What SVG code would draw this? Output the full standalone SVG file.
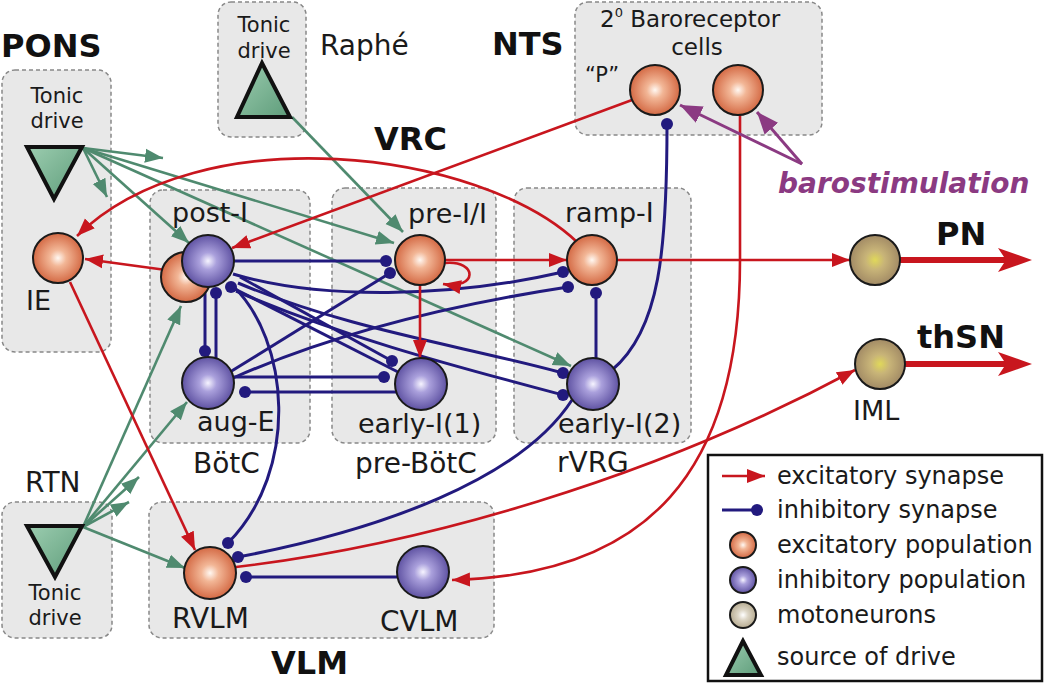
<svg xmlns="http://www.w3.org/2000/svg" width="1050" height="684" viewBox="0 0 1050 684">
<defs>
<style>
.box{fill:#e8e8e8;stroke:#888;stroke-width:1.5;stroke-dasharray:4 3}
.t{font-family:"DejaVu Sans",Verdana,sans-serif;fill:#1a1a1a}
.b{font-family:"DejaVu Sans",Verdana,sans-serif;font-weight:bold;fill:#111;font-size:32px}
.reg{font-size:28px}
.pop{font-size:27px}
.ton{font-size:21px}
.ex{fill:none;stroke:#c8161e;stroke-width:2.6}
.in{fill:none;stroke:#221a7e;stroke-width:3}
.gr{fill:none;stroke:#4f8a6f;stroke-width:2.6}
.pu{fill:none;stroke:#8b3a82;stroke-width:3}
.cell{stroke:#1a1a1a;stroke-width:2}
.tri{fill:url(#gTri);stroke:#111;stroke-width:4;stroke-linejoin:miter}
.big{fill:none;stroke:#c8161e;stroke-width:6}
</style>
<radialGradient id="gOr" cx="50%" cy="50%" r="55%"><stop offset="0" stop-color="#fff8f2"/><stop offset="0.3" stop-color="#f2b696"/><stop offset="1" stop-color="#cf5e38"/></radialGradient>
<radialGradient id="gBl" cx="50%" cy="50%" r="55%"><stop offset="0" stop-color="#f6f4ff"/><stop offset="0.3" stop-color="#aaa0dc"/><stop offset="1" stop-color="#54479a"/></radialGradient>
<radialGradient id="gMo" cx="50%" cy="50%" r="55%"><stop offset="0" stop-color="#e0d85a"/><stop offset="0.35" stop-color="#c8b478"/><stop offset="1" stop-color="#9c8462"/></radialGradient>
<radialGradient id="gMoL" cx="50%" cy="50%" r="55%"><stop offset="0" stop-color="#ffffff"/><stop offset="0.35" stop-color="#ddd6c6"/><stop offset="1" stop-color="#b0a488"/></radialGradient>
<linearGradient id="gTri" x1="0" y1="0" x2="1" y2="1"><stop offset="0" stop-color="#9ccdb0"/><stop offset="1" stop-color="#5e9c7a"/></linearGradient>
<marker id="ar" markerUnits="userSpaceOnUse" markerWidth="20" markerHeight="16" refX="18" refY="8" orient="auto"><path d="M0,1 L18,8 L0,15 z" fill="#c8161e"/></marker>
<marker id="ag" markerUnits="userSpaceOnUse" markerWidth="20" markerHeight="16" refX="18" refY="8" orient="auto"><path d="M0,1 L18,8 L0,15 z" fill="#4f8a6f"/></marker>
<marker id="ap" markerUnits="userSpaceOnUse" markerWidth="24" markerHeight="20" refX="22" refY="10" orient="auto"><path d="M0,1 L22,10 L0,19 z" fill="#8b3a82"/></marker>
<marker id="dot" markerUnits="userSpaceOnUse" markerWidth="14" markerHeight="14" refX="7" refY="7"><circle cx="7" cy="7" r="6" fill="#221a7e"/></marker>
</defs>
<rect width="1050" height="684" fill="#fff"/>

<g id="regions">
<rect class="box" x="2" y="70" width="109" height="282" rx="13"/>
<rect class="box" x="218" y="2" width="88" height="135" rx="13"/>
<rect class="box" x="575" y="2" width="247" height="133" rx="13"/>
<rect class="box" x="150" y="190" width="160" height="253" rx="13"/>
<rect class="box" x="332" y="188" width="164" height="255" rx="13"/>
<rect class="box" x="514" y="188" width="177" height="255" rx="13"/>
<rect class="box" x="2" y="502" width="110" height="136" rx="13"/>
<rect class="box" x="149" y="502" width="345" height="136" rx="13"/>
</g>

<g id="labels">
<text class="b" x="1" y="57">PONS</text>
<text class="b" x="492" y="55">NTS</text>
<text class="b" x="374" y="150">VRC</text>
<text class="b" x="271" y="674">VLM</text>
<text class="b" x="936" y="245">PN</text>
<text class="b" x="917" y="348">thSN</text>
<text class="t reg" x="320" y="55">Raphé</text>
<text class="t reg" x="193" y="473">BötC</text>
<text class="t reg" x="355" y="473">pre-BötC</text>
<text class="t reg" x="557" y="472">rVRG</text>
<text class="t reg" x="25" y="492">RTN</text>
<text class="t ton" x="57" y="103" text-anchor="middle">Tonic</text>
<text class="t ton" x="57" y="128" text-anchor="middle">drive</text>
<text class="t ton" x="264" y="32" text-anchor="middle">Tonic</text>
<text class="t ton" x="264" y="58" text-anchor="middle">drive</text>
<text class="t ton" x="55" y="600" text-anchor="middle">Tonic</text>
<text class="t ton" x="55" y="625" text-anchor="middle">drive</text>
<text class="t" x="600" y="27" font-size="23">2<tspan font-size="13" dy="-10">0</tspan><tspan dy="10"> Baroreceptor</tspan></text>
<text class="t" x="697" y="55" font-size="23" text-anchor="middle">cells</text>
<text class="t" x="585" y="82" font-size="21">“P”</text>
<text x="778" y="193" font-family="DejaVu Sans,Verdana,sans-serif" font-weight="bold" font-style="italic" font-size="28" fill="#8b3a82">barostimulation</text>
</g>

<g id="connectors">
<!-- green tonic drive -->
<path class="gr" marker-end="url(#ag)" d="M83,148 L163,158"/>
<path class="gr" marker-end="url(#ag)" d="M83,148 L107,197"/>
<path class="gr" marker-end="url(#ag)" d="M83,148 L189,243"/>
<path class="gr" marker-end="url(#ag)" d="M83,148 L394,243"/>
<path class="gr" marker-end="url(#ag)" d="M83,148 L571,366"/>
<path class="gr" marker-end="url(#ag)" d="M292,117 L403,232"/>
<path class="gr" marker-end="url(#ag)" d="M83,527 L181,306"/>
<path class="gr" marker-end="url(#ag)" d="M83,527 L187,402"/>
<path class="gr" marker-end="url(#ag)" d="M83,527 L139,477"/>
<path class="gr" marker-end="url(#ag)" d="M83,527 L129,502"/>
<path class="gr" marker-end="url(#ag)" d="M83,527 L185,568"/>
<!-- inhibitory -->
<path class="in" marker-end="url(#dot)" d="M234,261 L386,261"/>
<path class="in" marker-end="url(#dot)" d="M233,274 C320,300 450,298 563,272"/>
<path class="in" marker-end="url(#dot)" d="M230,372 L390,273"/>
<path class="in" marker-end="url(#dot)" d="M233,378 C330,335 450,305 568,287"/>
<path class="in" marker-end="url(#dot)" d="M240,277 L392,361"/>
<path class="in" marker-end="url(#dot)" d="M398,372 L231,287"/>
<path class="in" marker-end="url(#dot)" d="M238,283 C350,330 460,345 563,373"/>
<path class="in" marker-end="url(#dot)" d="M236,291 C350,340 470,370 563,395"/>
<path class="in" marker-end="url(#dot)" d="M233,377 L384,377"/>
<path class="in" marker-end="url(#dot)" d="M396,392 L245,392"/>
<path class="in" marker-end="url(#dot)" d="M205,288 L205,351"/>
<path class="in" marker-end="url(#dot)" d="M216,358 L216,293"/>
<path class="in" marker-end="url(#dot)" d="M596,358 L596,293"/>
<path class="in" marker-end="url(#dot)" d="M612,370 C660,330 667,250 667,124"/>
<path class="in" marker-end="url(#dot)" d="M232,285 C290,340 300,470 228,543"/>
<path class="in" marker-end="url(#dot)" d="M572,400 C520,480 380,530 238,557"/>
<path class="in" marker-end="url(#dot)" d="M400,577 L246,577"/>
<!-- excitatory -->
<path class="ex" marker-end="url(#ar)" d="M577,242 C480,150 200,115 77,236"/>
<path class="ex" marker-end="url(#ar)" d="M632,100 L232,248"/>
<path class="ex" marker-end="url(#ar)" d="M166,270 L85,259"/>
<path class="ex" marker-end="url(#ar)" d="M70,282 L195,550"/>
<path class="ex" marker-end="url(#ar)" d="M445,260 L567,260"/>
<path class="ex" marker-end="url(#ar)" d="M445,263 C478,260 478,290 443,284"/>
<path class="ex" marker-end="url(#ar)" d="M420,285 L420,358"/>
<path class="ex" marker-end="url(#ar)" d="M617,260 L850,260"/>
<path class="ex" marker-end="url(#ar)" d="M236,567 C420,545 650,480 855,370"/>
<path class="ex" marker-end="url(#ar)" d="M740,115 L740,260 C740,470 650,575 452,580"/>
<path class="big" d="M900,260 L1010,260"/>
<polygon points="1032,260 998,248 1006,260 998,272" fill="#c8161e"/>
<path class="big" d="M905,364 L1010,364"/>
<polygon points="1032,364 998,352 1006,364 998,376" fill="#c8161e"/>
<!-- barostimulation -->
<path class="pu" marker-end="url(#ap)" d="M802,164 L680,105"/>
<path class="pu" marker-end="url(#ap)" d="M802,164 L757,112"/>
</g>

<g id="tonic-pons"><polygon class="tri" points="27,147 82,147 54,199"/></g>
<g id="tonic-raphe"><polygon class="tri" points="262,63 237,117 290,117"/></g>
<g id="tonic-rtn"><polygon class="tri" points="27,526 82,526 55,577"/></g>

<g id="IE"><circle class="cell" cx="58" cy="258" r="25" fill="url(#gOr)"/><text class="t pop" x="26" y="310">IE</text></g>
<g id="post-I-exc"><circle class="cell" cx="186" cy="277" r="25" fill="url(#gOr)"/></g>
<g id="post-I"><circle class="cell" cx="208" cy="261" r="26" fill="url(#gBl)"/><text class="t pop" x="172" y="222">post-I</text></g>
<g id="aug-E"><circle class="cell" cx="208" cy="383" r="26" fill="url(#gBl)"/><text class="t pop" x="197" y="431">aug-E</text></g>
<g id="pre-I-I"><circle class="cell" cx="420" cy="260" r="25" fill="url(#gOr)"/><text class="t pop" x="408" y="223">pre-I/I</text></g>
<g id="early-I1"><circle class="cell" cx="421" cy="384" r="26" fill="url(#gBl)"/><text class="t pop" x="358" y="433">early-I(1)</text></g>
<g id="ramp-I"><circle class="cell" cx="592" cy="260" r="25" fill="url(#gOr)"/><text class="t pop" x="565" y="222">ramp-I</text></g>
<g id="early-I2"><circle class="cell" cx="593" cy="384" r="26" fill="url(#gBl)"/><text class="t pop" x="558" y="433">early-I(2)</text></g>
<g id="PN"><circle class="cell" cx="875" cy="260" r="25" fill="url(#gMo)"/></g>
<g id="IML"><circle class="cell" cx="880" cy="364" r="25" fill="url(#gMo)"/><text class="t pop" x="853" y="420">IML</text></g>
<g id="RVLM"><circle class="cell" cx="210" cy="573" r="26" fill="url(#gOr)"/><text class="t reg" x="172" y="628">RVLM</text></g>
<g id="CVLM"><circle class="cell" cx="423" cy="572" r="26" fill="url(#gBl)"/><text class="t reg" x="380" y="631">CVLM</text></g>
<g id="NTS-P"><circle class="cell" cx="655" cy="90" r="25" fill="url(#gOr)"/></g>
<g id="NTS-2"><circle class="cell" cx="738" cy="90" r="25" fill="url(#gOr)"/></g>

<g id="legend">
<rect x="708" y="455" width="334" height="226" fill="#fff" stroke="#111" stroke-width="2.5"/>
<path class="ex" marker-end="url(#ar)" d="M722,476 L765,476"/>
<path class="in" marker-end="url(#dot)" d="M722,510 L757,510"/>
<circle class="cell" cx="743" cy="545" r="13" fill="url(#gOr)" stroke-width="1.5"/>
<circle class="cell" cx="743" cy="580" r="13" fill="url(#gBl)" stroke-width="1.5"/>
<circle class="cell" cx="743" cy="615" r="13" fill="url(#gMoL)" stroke-width="1.5"/>
<polygon class="tri" points="743,641 726,675 761,675"/>
<g class="t" font-size="24">
<text x="777" y="484">excitatory synapse</text>
<text x="777" y="518">inhibitory synapse</text>
<text x="777" y="553">excitatory population</text>
<text x="777" y="588">inhibitory population</text>
<text x="777" y="623">motoneurons</text>
<text x="777" y="665">source of drive</text>
</g>
</g>
</svg>
